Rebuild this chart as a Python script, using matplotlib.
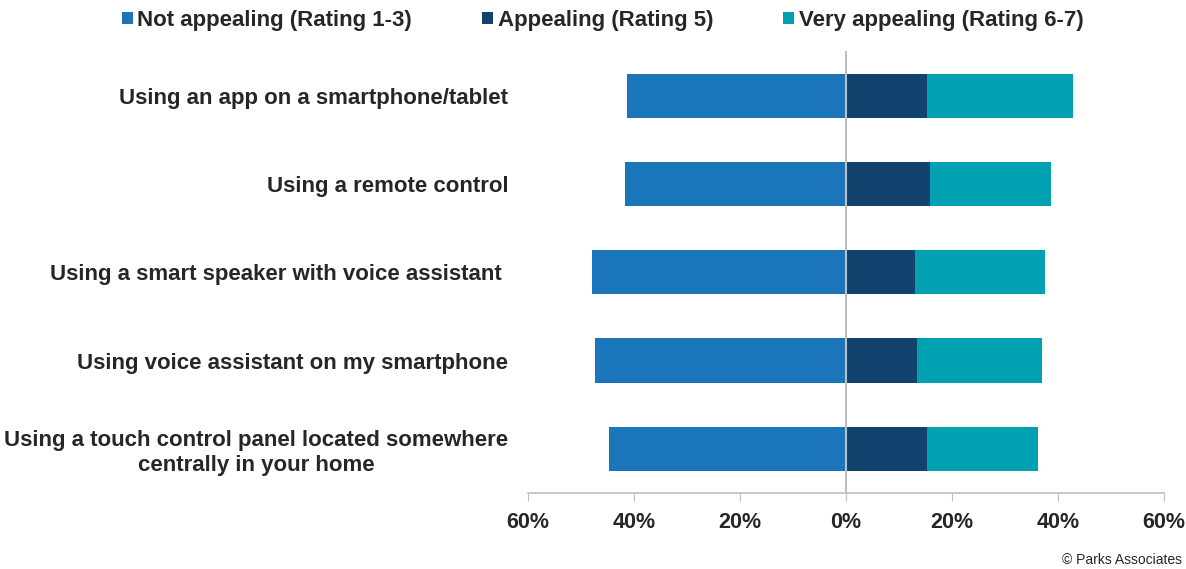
import matplotlib.pyplot as plt
import numpy as np

plt.rcParams['font.family'] = ['Liberation Sans', 'DejaVu Sans']

categories = ['Using an app on a smartphone/tablet',
              'Using a remote control',
              'Using a smart speaker with voice assistant ',
              'Using voice assistant on my smartphone',
              'Using a touch control panel located somewhere\ncentrally in your home']
not_appealing = [41.2, 41.7, 47.8, 47.3, 44.7]
appealing = [15.4, 15.9, 13.0, 13.4, 15.3]
very_appealing = [27.4, 22.8, 24.6, 23.7, 21.0]
series_names = ['Not appealing (Rating 1-3)', 'Appealing (Rating 5)', 'Very appealing (Rating 6-7)']
colors = ['#1B75BB', '#11436E', '#02A1B1']
ticks = [-60, -40, -20, 0, 20, 40, 60]
tick_labels = ['60%', '40%', '20%', '0%', '20%', '40%', '60%']

txt = '#262626'

fig = plt.figure(figsize=(11.86, 5.69), dpi=100)
ax = fig.add_axes([0.445, 0.1336, 0.5362, 0.776])

y = np.arange(len(categories))[::-1]
na = -np.array(not_appealing)
ap = np.array(appealing)
va = np.array(very_appealing)

ax.barh(y, na, height=0.5, color=colors[0], label=series_names[0])
ax.barh(y, ap, height=0.5, color=colors[1], label=series_names[1])
ax.barh(y, va, left=ap, height=0.5, color=colors[2], label=series_names[2])
ax.axvline(0, color='#BFBFBF', lw=1.5, zorder=5)

ax.set_xlim(-60, 60)
ax.set_ylim(-0.5, 4.5)
ax.set_xticks(ticks)
ax.set_xticklabels(tick_labels, fontsize=15.5, fontweight='bold', color=txt)
ax.tick_params(axis='x', length=6, color='#BFBFBF', pad=8)
ax.set_yticks(y)
ax.set_yticklabels(categories, fontsize=16, fontweight='bold', color=txt,
                   multialignment='center', linespacing=1.2)
ax.tick_params(axis='y', length=0, pad=14)
for s in ['left', 'top', 'right']:
    ax.spines[s].set_visible(False)
ax.spines['bottom'].set_color('#BFBFBF')
ax.spines['bottom'].set_linewidth(1.2)

fig.legend(loc='upper center', bbox_to_anchor=(0.508, 1.018), ncol=3, frameon=False,
           prop={'size': 16, 'weight': 'bold'}, labelcolor=txt,
           handlelength=0.5, handleheight=0.5, handletextpad=0.2, columnspacing=3.15)

fig.text(0.997, 0.004, '\u00a9 Parks Associates', ha='right', va='bottom', fontsize=10, color=txt)

fig.savefig('out.png', dpi=100)
